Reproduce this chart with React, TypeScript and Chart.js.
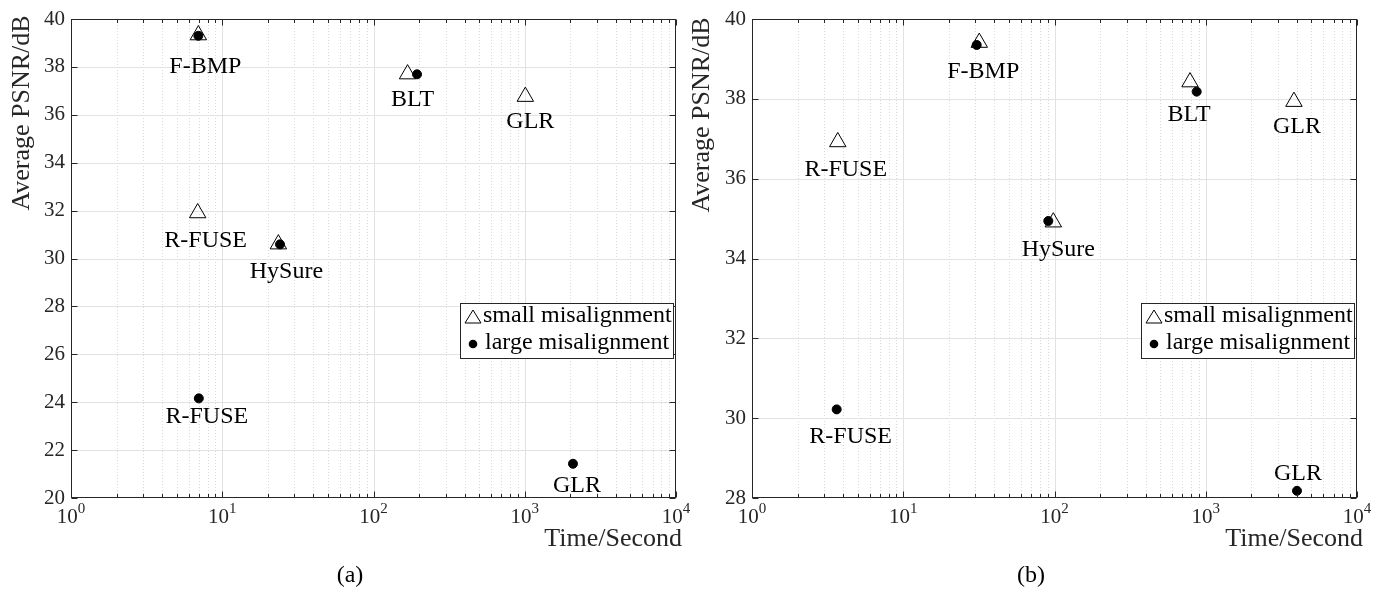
import React, { useEffect, useRef } from 'react';
import { Chart, registerables } from 'chart.js';

Chart.register(...registerables);

// ---------- data ----------
const methodNames = ['F-BMP', 'R-FUSE', 'HySure', 'BLT', 'GLR'];

// panel (a)
const smallTimeA = [6.95, 6.88, 23.5, 168, 1009];
const smallPsnrA = [39.33, 31.9, 30.6, 37.7, 36.76];
const largeTimeA = [6.95, 7.0, 24.1, 194, 2084];
const largePsnrA = [39.3, 24.16, 30.59, 37.69, 21.43];

// panel (b)
const smallTimeB = [31.8, 3.69, 98.2, 787, 3830];
const smallPsnrB = [39.41, 36.92, 34.91, 38.42, 37.93];
const largeTimeB = [30.6, 3.63, 91, 871, 4010];
const largePsnrB = [39.35, 30.22, 34.94, 38.18, 28.18];

const xDecades = [1, 10, 100, 1000, 10000];
const xDecadeExponents = ['0', '1', '2', '3', '4'];
const yTicksA = [20, 22, 24, 26, 28, 30, 32, 34, 36, 38, 40];
const yTicksB = [28, 30, 32, 34, 36, 38, 40];

const seriesNames = ['small misalignment', 'large misalignment'];
const xTitle = 'Time/Second';
const yTitle = 'Average PSNR/dB';

// ---------- layout / annotation placement ----------
type LabelSpec = { series: 'small' | 'large'; index: number; dx: number; dy: number };

const labelPlacementA: LabelSpec[] = [
  { series: 'small', index: 0, dx: 7, dy: 30 },
  { series: 'small', index: 1, dx: 8, dy: 26 },
  { series: 'small', index: 2, dx: 8, dy: 26 },
  { series: 'small', index: 3, dx: 5, dy: 24 },
  { series: 'small', index: 4, dx: 5, dy: 23 },
  { series: 'large', index: 1, dx: 8, dy: 17 },
  { series: 'large', index: 4, dx: 4, dy: 20 },
];
const labelPlacementB: LabelSpec[] = [
  { series: 'small', index: 0, dx: 4, dy: 27 },
  { series: 'small', index: 1, dx: 8, dy: 26 },
  { series: 'small', index: 2, dx: 5, dy: 26 },
  { series: 'small', index: 3, dx: -1, dy: 31 },
  { series: 'small', index: 4, dx: 3, dy: 23 },
  { series: 'large', index: 1, dx: 14, dy: 26 },
  { series: 'large', index: 4, dx: 1, dy: -18.5 },
];

const FONT = "'Liberation Serif', 'DejaVu Serif', serif";
const AXIS = '#262626';

type PanelCfg = {
  left: number;
  width: number;
  padding: { left: number; right: number; top: number; bottom: number };
  yMin: number;
  yMax: number;
  yTicks: number[];
  smallT: number[];
  smallP: number[];
  largeT: number[];
  largeP: number[];
  labels: LabelSpec[];
  yTitleX: number;
  yTitleY: number;
  caption: string;
  captionX: number;
  legendDx: number;
};

function makeDecor(cfg: PanelCfg) {
  return {
    id: 'decor',
    beforeDatasetsDraw(chart: any) {
      const { ctx, chartArea: a, scales } = chart;
      const x = scales.x;
      const y = scales.y;
      ctx.save();
      ctx.lineWidth = 1;
      // minor dotted x grid
      ctx.strokeStyle = '#dadada';
      ctx.setLineDash([1, 2]);
      for (let d = 0; d < xDecades.length - 1; d++) {
        for (let m = 2; m <= 9; m++) {
          const px = Math.round(x.getPixelForValue(xDecades[d] * m)) + 0.5;
          ctx.beginPath();
          ctx.moveTo(px, a.top);
          ctx.lineTo(px, a.bottom);
          ctx.stroke();
        }
      }
      ctx.setLineDash([]);
      ctx.strokeStyle = '#e2e2e2';
      for (let d = 1; d < xDecades.length - 1; d++) {
        const px = Math.round(x.getPixelForValue(xDecades[d])) + 0.5;
        ctx.beginPath();
        ctx.moveTo(px, a.top);
        ctx.lineTo(px, a.bottom);
        ctx.stroke();
      }
      for (let i = 1; i < cfg.yTicks.length - 1; i++) {
        const py = Math.round(y.getPixelForValue(cfg.yTicks[i])) + 0.5;
        ctx.beginPath();
        ctx.moveTo(a.left, py);
        ctx.lineTo(a.right, py);
        ctx.stroke();
      }
      ctx.restore();
    },
    afterDatasetsDraw(chart: any) {
      const { ctx, chartArea: a, scales } = chart;
      const x = scales.x;
      const y = scales.y;
      const L = Math.round(a.left) + 0.5;
      const R = Math.round(a.right) - 0.5;
      const T = Math.round(a.top) + 0.5;
      const B = Math.round(a.bottom) - 0.5;
      ctx.save();
      ctx.strokeStyle = AXIS;
      ctx.lineWidth = 1;
      ctx.strokeRect(L, T, R - L, B - T);
      // x ticks
      for (let d = 0; d < xDecades.length; d++) {
        const px = Math.round(x.getPixelForValue(xDecades[d])) + 0.5;
        ctx.beginPath();
        ctx.moveTo(px, B);
        ctx.lineTo(px, B - 6);
        ctx.moveTo(px, T);
        ctx.lineTo(px, T + 6);
        ctx.stroke();
        if (d < xDecades.length - 1) {
          for (let m = 2; m <= 9; m++) {
            const pm = Math.round(x.getPixelForValue(xDecades[d] * m)) + 0.5;
            ctx.beginPath();
            ctx.moveTo(pm, B);
            ctx.lineTo(pm, B - 3.5);
            ctx.moveTo(pm, T);
            ctx.lineTo(pm, T + 3.5);
            ctx.stroke();
          }
        }
      }
      // y ticks
      cfg.yTicks.forEach((v) => {
        const py = Math.round(y.getPixelForValue(v)) + 0.5;
        ctx.beginPath();
        ctx.moveTo(L, py);
        ctx.lineTo(L + 6, py);
        ctx.moveTo(R, py);
        ctx.lineTo(R - 6, py);
        ctx.stroke();
      });

      ctx.fillStyle = AXIS;
      // y tick labels
      ctx.font = `21px ${FONT}`;
      ctx.textAlign = 'right';
      ctx.textBaseline = 'middle';
      cfg.yTicks.forEach((v) => {
        ctx.fillText(String(v), a.left - 6, y.getPixelForValue(v));
      });
      // x tick labels 10^n
      ctx.textBaseline = 'alphabetic';
      ctx.textAlign = 'left';
      xDecades.forEach((v, i) => {
        const px = x.getPixelForValue(v);
        ctx.font = `21px ${FONT}`;
        const wBase = ctx.measureText('10').width;
        ctx.font = `15px ${FONT}`;
        const wSup = ctx.measureText(xDecadeExponents[i]).width;
        const x0 = px - (wBase + wSup) / 2;
        ctx.font = `21px ${FONT}`;
        ctx.fillText('10', x0, a.bottom + 25);
        ctx.font = `15px ${FONT}`;
        ctx.fillText(xDecadeExponents[i], x0 + wBase, a.bottom + 15);
      });
      // axis titles
      ctx.font = `26px ${FONT}`;
      ctx.textAlign = 'right';
      ctx.fillText(xTitle, a.right + 6, a.bottom + 48);
      ctx.save();
      ctx.translate(cfg.yTitleX, cfg.yTitleY);
      ctx.rotate(-Math.PI / 2);
      ctx.textAlign = 'center';
      ctx.fillText(yTitle, 0, 0);
      ctx.restore();

      // point labels
      ctx.fillStyle = '#000';
      ctx.font = `24px ${FONT}`;
      ctx.textAlign = 'center';
      cfg.labels.forEach((l) => {
        const t = l.series === 'small' ? cfg.smallT : cfg.largeT;
        const p = l.series === 'small' ? cfg.smallP : cfg.largeP;
        const px = x.getPixelForValue(t[l.index]);
        const py = y.getPixelForValue(p[l.index]);
        ctx.fillText(methodNames[l.index], px + l.dx, py + l.dy + 8);
      });

      // legend
      const bw = 213;
      const bh = 55;
      const bx = Math.round(a.right - 3 - bw) + 0.5;
      const by = Math.round(a.top + 283.5) + 0.5;
      ctx.fillStyle = '#fff';
      ctx.fillRect(bx, by, bw, bh);
      ctx.strokeStyle = AXIS;
      ctx.strokeRect(bx, by, bw, bh);
      // triangle symbol
      const tx = bx + 12.5 + cfg.legendDx;
      ctx.strokeStyle = '#000';
      ctx.beginPath();
      ctx.moveTo(tx, by + 6.5);
      ctx.lineTo(tx + 8, by + 19.5);
      ctx.lineTo(tx - 8, by + 19.5);
      ctx.closePath();
      ctx.stroke();
      // dot symbol
      ctx.fillStyle = '#000';
      ctx.beginPath();
      ctx.arc(tx, by + 40.5, 4.3, 0, Math.PI * 2);
      ctx.fill();
      ctx.font = `24px ${FONT}`;
      ctx.textAlign = 'left';
      ctx.fillStyle = '#000';
      ctx.fillText(seriesNames[0], bx + 22.5 + cfg.legendDx, by + 18.5);
      ctx.fillText(seriesNames[1], bx + 24.5 + cfg.legendDx, by + 45.5);

      // caption
      ctx.textAlign = 'center';
      ctx.font = `24px ${FONT}`;
      ctx.fillText(cfg.caption, cfg.captionX, 582);
      ctx.restore();
    },
  };
}

function Panel({ cfg }: { cfg: PanelCfg }) {
  const ref = useRef<HTMLCanvasElement>(null);
  useEffect(() => {
    const canvas = ref.current;
    if (!canvas) return;
    const chart = new Chart(canvas, {
      type: 'scatter',
      data: {
        datasets: [
          {
            label: seriesNames[1],
            data: cfg.largeT.map((t, i) => ({ x: t, y: cfg.largeP[i] })),
            pointStyle: 'circle',
            pointRadius: 4.5,
            pointHoverRadius: 4.5,
            backgroundColor: '#000',
            borderColor: '#000',
            borderWidth: 1,
            order: 1,
            clip: false,
          } as any,
          {
            label: seriesNames[0],
            data: cfg.smallT.map((t, i) => ({ x: t, y: cfg.smallP[i] })),
            pointStyle: 'triangle',
            pointRadius: 9.5,
            pointHoverRadius: 9.5,
            backgroundColor: 'rgba(0,0,0,0)',
            borderColor: '#000',
            borderWidth: 1,
            order: 2,
            clip: false,
          } as any,
        ],
      },
      options: {
        animation: false,
        responsive: false,
        maintainAspectRatio: false,
        devicePixelRatio: 1,
        events: [],
        layout: { padding: cfg.padding },
        plugins: { legend: { display: false }, tooltip: { enabled: false }, title: { display: false } },
        scales: {
          x: { type: 'logarithmic', min: 1, max: 10000, display: false },
          y: { type: 'linear', min: cfg.yMin, max: cfg.yMax, display: false },
        },
      },
      plugins: [makeDecor(cfg) as any],
    });
    return () => chart.destroy();
  }, [cfg]);
  return (
    <canvas
      ref={ref}
      width={cfg.width}
      height={591}
      style={{ position: 'absolute', left: cfg.left, top: 0, width: cfg.width, height: 591 }}
    />
  );
}

const cfgA: PanelCfg = {
  left: 0,
  width: 690,
  padding: { left: 71, right: 14, top: 19, bottom: 93 },
  yMin: 20,
  yMax: 40,
  yTicks: yTicksA,
  smallT: smallTimeA,
  smallP: smallPsnrA,
  largeT: largeTimeA,
  largeP: largePsnrA,
  labels: labelPlacementA,
  yTitleX: 29,
  yTitleY: 113,
  caption: '(a)',
  captionX: 350,
  legendDx: 0,
};

const cfgB: PanelCfg = {
  left: 690,
  width: 706,
  padding: { left: 62, right: 39, top: 19, bottom: 93 },
  yMin: 28,
  yMax: 40,
  yTicks: yTicksB,
  smallT: smallTimeB,
  smallP: smallPsnrB,
  largeT: largeTimeB,
  largeP: largePsnrB,
  labels: labelPlacementB,
  yTitleX: 19,
  yTitleY: 115,
  caption: '(b)',
  captionX: 341,
  legendDx: 0,
};

export default function App() {
  return (
    <div style={{ position: 'fixed', left: 0, top: 0, width: 1396, height: 591, background: '#fff', overflow: 'hidden' }}>
      <Panel cfg={cfgA} />
      <Panel cfg={cfgB} />
    </div>
  );
}
